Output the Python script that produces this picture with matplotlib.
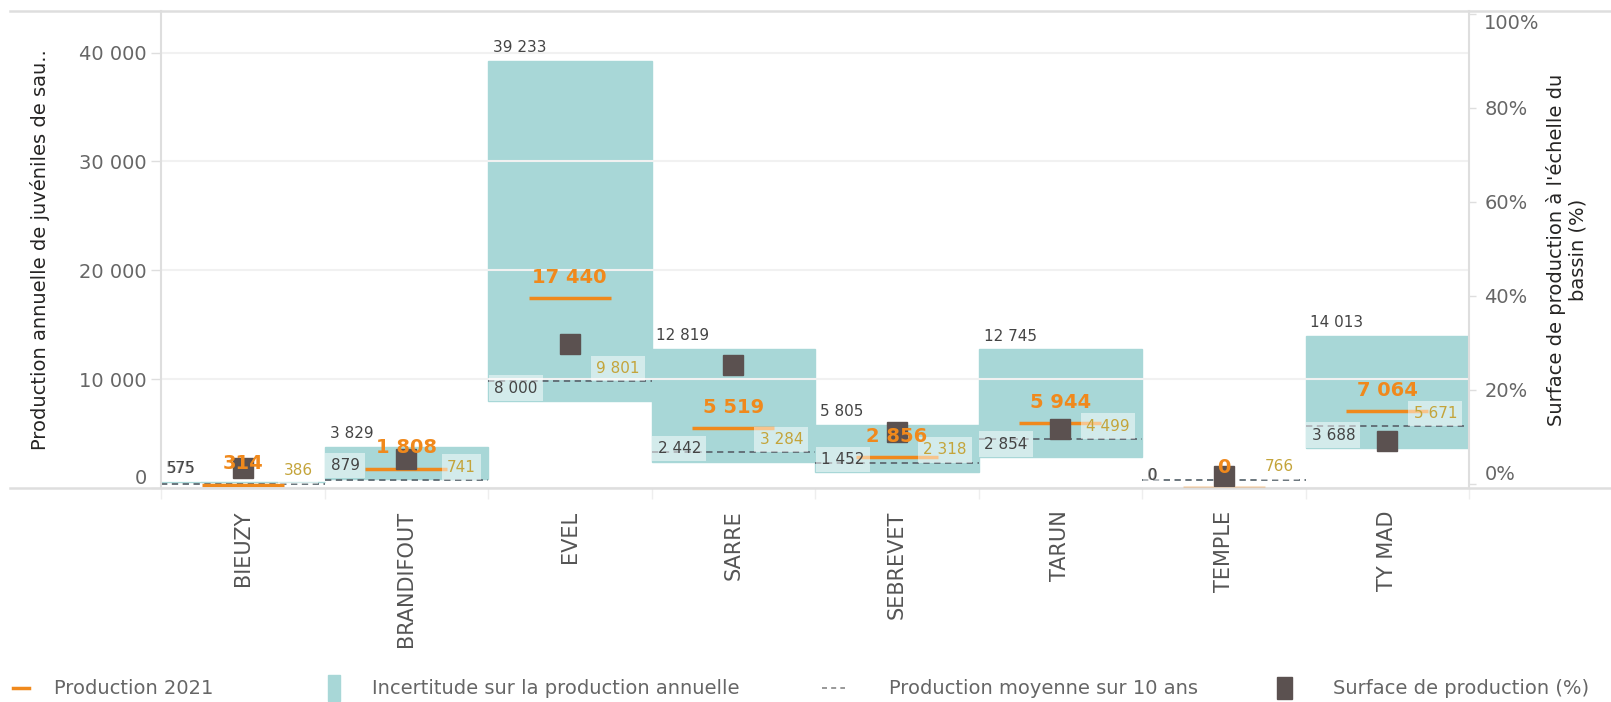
import numpy as np
import matplotlib
matplotlib.use("Agg")
import matplotlib.pyplot as plt
from matplotlib.lines import Line2D
from matplotlib.patches import Rectangle

# donnees
sites = ["BIEUZY", "BRANDIFOUT", "EVEL", "SARRE", "SEBREVET", "TARUN", "TEMPLE", "TY MAD"]
borne_haute = [575, 3829, 39233, 12819, 5805, 12745, 0, 14013]
borne_basse = [575, 879, 8000, 2442, 1452, 2854, 0, 3688]
prod_2021 = [314, 1808, 17440, 5519, 2856, 5944, 0, 7064]
moy_10ans = [386, 741, 9801, 3284, 2318, 4499, 766, 5671]
surface_pct = [3.4, 5.3, 29.7, 25.4, 11.1, 11.6, 1.6, 9.2]

y_ticks = [0, 10000, 20000, 30000, 40000]
pct_ticks = [0, 20, 40, 60, 80, 100]

TEAL = "#a8d7d7"
ORANGE = "#f0891c"
GOLD = "#c4a43a"
DARK = "#5b5150"
DASH = "#5e6a72"
TXT = "#444444"
TICK = "#666666"
TITLE = "#252423"
LIGNE = "#dedede"


def fmt(v):
    return f"{v:,}".replace(",", " ")


W, H = 1611, 702
fig = plt.figure(figsize=(W / 100, H / 100), dpi=100)
x0, x1, y_top, y_bot = 161, 1469, 11, 488.2
ax = fig.add_axes([x0 / W, 1 - y_bot / H, (x1 - x0) / W, (y_bot - y_top) / H])
ax2 = ax.twinx()

x = np.arange(len(sites))
haut = np.array(borne_haute)
bas = np.array(borne_basse)

ax.bar(x, haut - bas, bottom=bas, width=1.0, color=TEAL, edgecolor=TEAL, linewidth=1, zorder=1)
ax.hlines(moy_10ans, x - 0.5, x + 0.5, colors=DASH, linewidth=1.3,
          linestyles=(0, (3.5, 2.5)), zorder=2)
ax.hlines(prod_2021, x - 0.25, x + 0.25, colors=ORANGE, linewidth=2.5, zorder=3)

ax.set_xlim(-0.5, len(sites) - 0.5)
ax.set_ylim(0, 43820)
ax2.set_ylim(-0.9, 100.6)

ax2.plot(x, surface_pct, linestyle="none", marker="s", markersize=14.5,
         color=DARK, zorder=4)

# etiquettes (sur ax2 pour passer au-dessus des carres)
bg = dict(boxstyle="square,pad=0.35", facecolor="white", alpha=0.5, edgecolor="none")
for i in range(len(sites)):
    ax2.annotate(fmt(borne_haute[i]), xy=(i - 0.5, borne_haute[i]), xycoords=ax.transData,
                 xytext=(5, 13), textcoords="offset pixels", ha="left", va="center",
                 fontsize=11, color=TXT, zorder=5)
    ax2.annotate(fmt(borne_basse[i]), xy=(i - 0.5, borne_basse[i]), xycoords=ax.transData,
                 xytext=(6, 13), textcoords="offset pixels", ha="left", va="center",
                 fontsize=11, color=TXT, bbox=bg, zorder=5)
    ax2.annotate(fmt(moy_10ans[i]), xy=(i + 0.5, moy_10ans[i]), xycoords=ax.transData,
                 xytext=(-12, 13), textcoords="offset pixels", ha="right", va="center",
                 fontsize=11, color=GOLD, bbox=bg, zorder=5)
    ax2.annotate(fmt(prod_2021[i]), xy=(i, prod_2021[i]), xycoords=ax.transData,
                 xytext=(0, 21), textcoords="offset pixels", ha="center", va="center",
                 fontsize=14, fontweight="bold", color=ORANGE, zorder=6)

# axes
ax.set_axisbelow("line")
ax.yaxis.grid(True, color="#f1f1f1", linewidth=1.5)
ax.set_yticks(y_ticks, [fmt(v) for v in y_ticks])
ax.tick_params(axis="y", length=7, width=1, color=LIGNE, labelcolor=TICK, labelsize=14, pad=3)
ax.get_yticklabels()[0].set_verticalalignment("bottom")

ax.set_xticks(x, sites, rotation=90)
ax.set_xticks(np.arange(len(sites) + 1) - 0.5, minor=True)
ax.tick_params(axis="x", which="major", length=0, pad=16, labelcolor="#555555", labelsize=15)
ax.tick_params(axis="x", which="minor", length=8, width=1, color="#eeeeee")

ax2.set_yticks(pct_ticks, [f"{v}%" for v in pct_ticks])
ax2.tick_params(axis="y", length=5, width=1, color=LIGNE, labelcolor=TICK, labelsize=14, pad=6)
ax2.get_yticklabels()[0].set_verticalalignment("bottom")
ax2.get_yticklabels()[-1].set_verticalalignment("top")

for a in (ax, ax2):
    for s in a.spines.values():
        s.set_visible(False)
ax2.spines["left"].set_visible(True)
ax2.spines["right"].set_visible(True)
ax2.spines["left"].set_color(LIGNE)
ax2.spines["right"].set_color(LIGNE)
ax2.spines["left"].set_linewidth(1.5)
ax2.spines["right"].set_linewidth(1.5)

ax.set_ylabel("Production annuelle de juvéniles de sau..", fontsize=14, color=TITLE)
ax.yaxis.set_label_coords((50 - x0) / (x1 - x0), 0.5)
ax2.set_ylabel("Surface de production à l'échelle du\nbassin (%)", fontsize=14,
               color=TITLE, linespacing=1.15)
ax2.yaxis.set_label_coords((1546 - x0) / (x1 - x0), 0.5)

# lignes de cadre haut et bas
for yy in (y_top, y_bot):
    fig.add_artist(Line2D([10 / W, 1], [1 - yy / H] * 2, color=LIGNE, linewidth=1.8))

# legende
yl = 1 - 688 / H
fig.add_artist(Line2D([13 / W, 29 / W], [yl, yl], color=ORANGE, linewidth=2.5))
fig.text(54 / W, yl, "Production 2021", fontsize=14, color=TICK, va="center")
fig.add_artist(Rectangle((328 / W, yl - 13 / H), 12 / W, 26 / H, color=TEAL))
fig.text(372 / W, yl, "Incertitude sur la production annuelle", fontsize=14, color=TICK, va="center")
fig.add_artist(Line2D([822 / W, 845 / W], [yl, yl], color="#888888", linewidth=1.2,
                      linestyle=(0, (3, 2.5))))
fig.text(889 / W, yl, "Production moyenne sur 10 ans", fontsize=14, color=TICK, va="center")
fig.add_artist(Rectangle((1277 / W, yl - 11 / H), 15 / W, 22 / H, color=DARK))
fig.text(1333 / W, yl, "Surface de production (%)", fontsize=14, color=TICK, va="center")

fig.savefig("out.png", dpi=100)
